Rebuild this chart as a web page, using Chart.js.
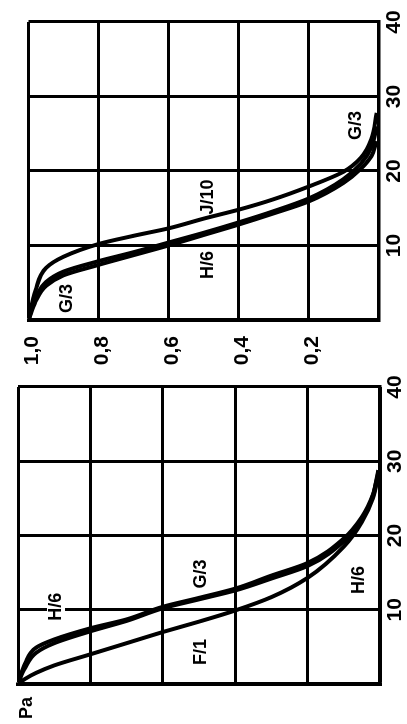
<!DOCTYPE html>
<html>
<head>
<meta charset="utf-8">
<title>Pa</title>
<script src="https://cdn.jsdelivr.net/npm/chart.js@4"></script>
<style>
  html, body { margin: 0; padding: 0; background: #fff; overflow: hidden; }
  #wrap {
    position: absolute; left: 0; top: 0;
    width: 724px; height: 407px;
    transform-origin: 0 0;
    transform: translate(0, 724px) rotate(-90deg);
  }
  #left { position: absolute; left: 0; top: 0; }
  #right { position: absolute; left: 352px; top: 0; }
</style>
</head>
<body>
<div id="wrap">
  <canvas id="left" width="352" height="407"></canvas>
  <canvas id="right" width="372" height="407"></canvas>
</div>
<script>
// Pa levels shared by every curve, diameters
const paLevels = [1.0, 0.98, 0.95, 0.9, 0.8, 0.7, 0.6, 0.5, 0.4, 0.3, 0.2, 0.1, 0.05, 0.02, 0.005];

// left panel (F/1, G/3, H/6)
const leftG3 = [0, 2.8, 4.9, 6.0, 7.5, 8.7, 10.4, 11.6, 12.85, 14.6, 16.3, 19.6, 22.5, 25.5, 28.8];
const leftH6 = [0, 2.2, 4.2, 5.5, 7.1, 8.5, 10.2, 11.4, 12.6, 14.2, 15.9, 19.2, 22.2, 25.3, 28.6];
const leftF1 = [0, 0.7, 1.5, 2.5, 4.0, 5.5, 7.0, 8.4, 9.9, 11.7, 14.3, 18.5, 21.8, 25.0, 28.3];

// right panel (G/3, H/6, J/10)
const rightJ10 = [0, 4.0, 7.0, 8.5, 10.2, 11.3, 12.3, 13.6, 14.8, 16.2, 17.9, 19.9, 21.8, 24.3, 27.8];
const rightG3 = [0, 3.0, 5.1, 6.5, 7.9, 9.1, 10.4, 11.7, 13.1, 14.6, 16.3, 18.9, 21.0, 23.2, 26.0];
const rightH6 = [0, 2.5, 4.6, 6.0, 7.4, 8.7, 10.0, 11.4, 12.8, 14.3, 15.9, 18.4, 20.3, 22.0, 24.0];

// tick labels
const dTickLabels = ["10", "20", "30", "40"];
const paTickLabels = ["1,0", "0,8", "0,6", "0,4", "0,2"];

const FONT = "'Liberation Sans', Arial, sans-serif";
const NARROW = "'Liberation Sans Narrow', 'Liberation Sans', Arial, sans-serif";

function curve(values) {
  return {
    data: paLevels.map((pa, i) => ({ x: values[i], y: pa })),
    borderColor: "#000",
    borderWidth: 4,
    pointRadius: 0,
    cubicInterpolationMode: "monotone",
    fill: false
  };
}

// curve names written inside the plot, placed in data units
const curveLabels = {
  id: "curveLabels",
  beforeDatasetsDraw(chart, args, opts) {
    const ctx = chart.ctx;
    const xs = chart.scales.x, ys = chart.scales.y;
    ctx.save();
    ctx.font = "bold 18px " + NARROW;
    ctx.textAlign = "center";
    ctx.textBaseline = "middle";
    (opts.items || []).forEach(it => {
      const px = xs.getPixelForValue(it.d);
      const py = ys.getPixelForValue(it.pa);
      const w = ctx.measureText(it.text).width;
      ctx.fillStyle = "#fff";
      ctx.fillRect(px - w / 2 - 2, py - 9, w + 4, 18);
      ctx.fillStyle = "#000";
      ctx.fillText(it.text, px, py);
    });
    if (opts.title) {
      ctx.font = "bold 18px " + FONT;
      ctx.fillText(opts.title, chart.chartArea.left - 24, chart.chartArea.top + 9);
    }
    ctx.restore();
  }
};

function makeChart(canvas, datasets, items, showPa, yWidth, pad, title) {
  return new Chart(canvas, {
    type: "line",
    data: { datasets: datasets },
    plugins: [curveLabels],
    options: {
      responsive: false,
      animation: false,
      devicePixelRatio: 1,
      layout: { padding: pad },
      plugins: {
        legend: { display: false },
        tooltip: { enabled: false },
        curveLabels: { items: items, title: title }
      },
      scales: {
        x: {
          type: "linear",
          min: 0, max: 40,
          afterFit: s => { s.height = 27; },
          ticks: {
            stepSize: 10,
            padding: 3,
            color: "#000",
            font: { family: FONT, size: 21, weight: "bold" },
            maxRotation: 0,
            callback: v => dTickLabels.includes(String(v)) ? String(v) : ""
          },
          grid: { color: "#000", lineWidth: 3, drawTicks: false },
          border: { color: "#000", width: 3.5 }
        },
        y: {
          type: "linear",
          min: 0, max: 1,
          afterFit: s => { s.width = yWidth; },
          ticks: {
            display: showPa,
            stepSize: 0.2,
            padding: 16,
            labelOffset: 4,
            color: "#000",
            font: { family: FONT, size: 21, weight: "bold" },
            callback: v => paTickLabels.find(l => Math.abs(parseFloat(l.replace(",", ".")) - v) < 1e-6) || ""
          },
          grid: { color: "#000", lineWidth: 3, drawTicks: false },
          border: { color: "#000", width: 3.5 }
        }
      }
    }
  });
}

// left panel (appears at the bottom once turned)
makeChart(
  document.getElementById("left"),
  [curve(leftF1), curve(leftH6), curve(leftG3)],
  [
    { text: "H/6", d: 10.4, pa: 0.895 },
    { text: "G/3", d: 14.8, pa: 0.494 },
    { text: "F/1", d: 4.3, pa: 0.494 },
    { text: "H/6", d: 14.0, pa: 0.058 }
  ],
  false, 0, { left: 40, right: 15, top: 18, bottom: 0 }, "Pa"
);

// right panel (appears at the top once turned)
makeChart(
  document.getElementById("right"),
  [curve(rightH6), curve(rightG3), curve(rightJ10)],
  [
    { text: "G/3", d: 2.9, pa: 0.89 },
    { text: "H/6", d: 7.4, pa: 0.486 },
    { text: "J/10", d: 16.5, pa: 0.486 },
    { text: "G/3", d: 26.1, pa: 0.064 }
  ],
  true, 52, { left: 0, right: 22, top: 18, bottom: 0 }, null
);
</script>
</body>
</html>
